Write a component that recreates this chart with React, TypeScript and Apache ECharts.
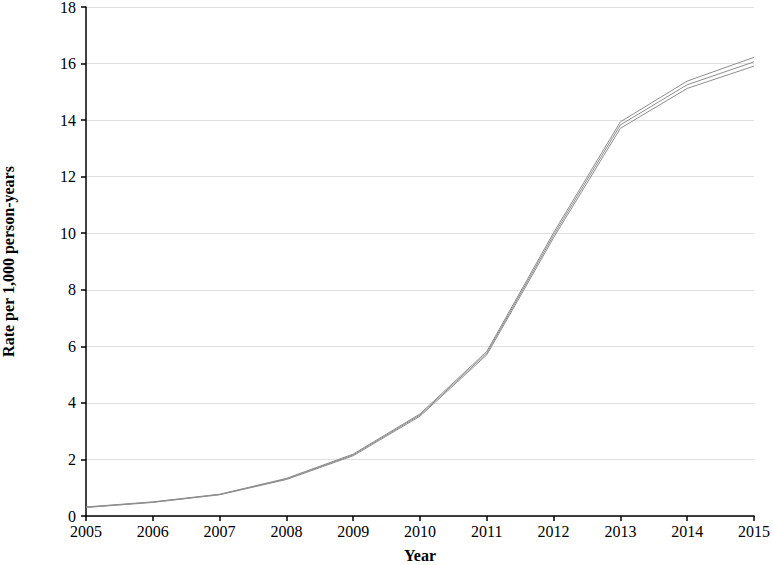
import React, { useEffect, useRef } from "react";
import * as echarts from "echarts";

const years = [2005, 2006, 2007, 2008, 2009, 2010, 2011, 2012, 2013, 2014, 2015];
const upper = [0.32, 0.5, 0.77, 1.33, 2.19, 3.61, 5.82, 10.02, 13.94, 15.38, 16.22];
const middle = [0.31, 0.49, 0.76, 1.31, 2.16, 3.57, 5.76, 9.93, 13.83, 15.25, 16.06];
const lower = [0.3, 0.48, 0.75, 1.29, 2.13, 3.53, 5.7, 9.84, 13.71, 15.12, 15.91];

const font = "'Liberation Serif', 'Times New Roman', serif";

export default function App() {
  const ref = useRef<HTMLDivElement>(null);
  useEffect(() => {
    if (!ref.current) return;
    const chart = echarts.init(ref.current, undefined, { renderer: "svg" });
    const mk = (name: string, vals: number[]) => ({
      name,
      type: "line",
      data: years.map((y, i) => [y, vals[i]]),
      symbol: "none",
      lineStyle: { color: "#8e8e8e", width: 1 },
    });
    chart.setOption({
      animation: false,
      backgroundColor: "#ffffff",
      grid: { left: 86, right: 18, top: 7, bottom: 49, outerBoundsMode: "none", containLabel: false },
      xAxis: {
        type: "value",
        min: 2005,
        max: 2015,
        interval: 1,
        name: "Year",
        nameLocation: "middle",
        nameGap: 31,
        nameTextStyle: { fontFamily: font, fontSize: 16, fontWeight: "bold", color: "#000" },
        axisLine: { show: true, lineStyle: { color: "#000", width: 1.5 } },
        axisTick: { show: true, length: 5, lineStyle: { color: "#000", width: 1.5 } },
        axisLabel: { fontFamily: font, fontSize: 16, color: "#000", margin: 7, formatter: (v: number) => String(v) },
        splitLine: { show: false },
      },
      yAxis: {
        type: "value",
        min: 0,
        max: 18,
        interval: 2,
        name: "Rate per 1,000 person-years",
        nameLocation: "middle",
        nameGap: 70,
        nameTextStyle: { fontFamily: font, fontSize: 16, fontWeight: "bold", color: "#000" },
        axisLine: { show: true, lineStyle: { color: "#000", width: 1.5 } },
        axisTick: { show: true, length: 5, lineStyle: { color: "#000", width: 1.5 } },
        axisLabel: { fontFamily: font, fontSize: 16, color: "#000", margin: 10 },
        splitLine: { show: true, lineStyle: { color: "#e0e0e0", width: 1 } },
      },
      series: [mk("Upper", upper), mk("Rate", middle), mk("Lower", lower)],
    });
    return () => chart.dispose();
  }, []);
  return <div ref={ref} style={{ width: 772, height: 565, position: "absolute", left: 0, top: 0 }} />;
}
